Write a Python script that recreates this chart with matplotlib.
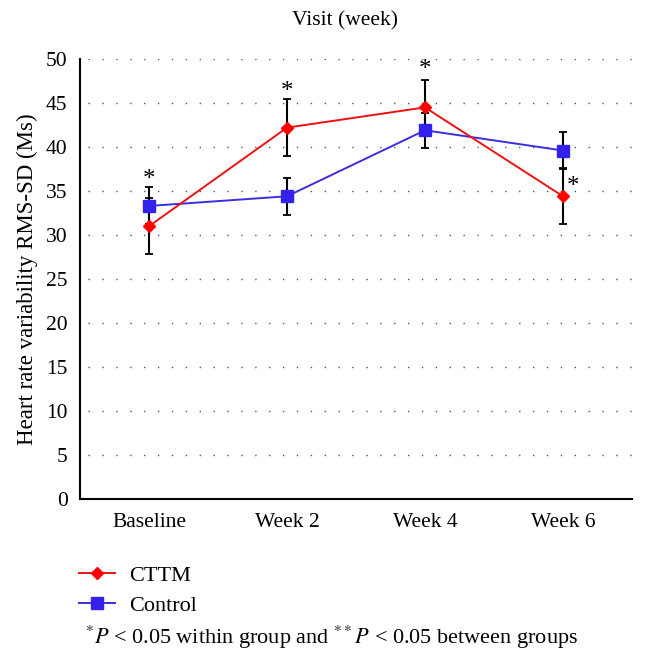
import matplotlib
matplotlib.use("Agg")
import matplotlib.pyplot as plt
import numpy as np

# Data
visits = ["Baseline", "Week 2", "Week 4", "Week 6"]
cttm = [31.0, 42.2, 44.5, 34.4]
cttm_err = [3.2, 3.2, 3.1, 3.2]
control = [33.3, 34.4, 41.9, 39.6]
control_err = [2.1, 2.1, 2.0, 2.1]
yticks = [0, 5, 10, 15, 20, 25, 30, 35, 40, 45, 50]
# asterisk positions (x index, y value)
star_x = [0, 1, 2, 3.07]
star_y = [36.3, 46.2, 48.8, 35.5]

plt.rcParams["font.family"] = ["Liberation Serif", "DejaVu Serif"]
plt.rcParams["mathtext.fontset"] = "stix"

fig = plt.figure(figsize=(6.46, 6.62), dpi=100)
ax = fig.add_axes([80 / 646, 163 / 662, 552 / 646, 440 / 662])

x = np.arange(len(visits))

# dotted horizontal grid
for yv in yticks[1:]:
    ax.plot([-0.44, 3.5], [yv, yv], color="#555555", lw=1.0,
            linestyle=(0, (1, 9)), zorder=1)

# error bars (black) under the markers
ax.errorbar(x, cttm, yerr=cttm_err, fmt="none", ecolor="black",
            elinewidth=1.5, capsize=3, capthick=1.3, zorder=2)
ax.errorbar(x, control, yerr=control_err, fmt="none", ecolor="black",
            elinewidth=1.5, capsize=3, capthick=1.3, zorder=2)

l1, = ax.plot(x, cttm, color="#ee1111", lw=1.4, marker="D", markersize=6.5,
              markerfacecolor="#ff0000", markeredgecolor="#ff0000",
              label="CTTM", zorder=4)
l2, = ax.plot(x, control, color="#3b2ee0", lw=1.4, marker="s", markersize=8.5,
              markerfacecolor="#3322ee", markeredgecolor="#3322ee",
              label="Control", zorder=3)

for sx, sy in zip(star_x, star_y):
    ax.text(sx, sy, "*", ha="center", va="center", fontsize=18)

ax.set_xlim(-0.5, 3.5)
ax.set_ylim(0, 50)
ax.set_yticks(yticks)
ax.set_xticks(x)
ax.set_xticklabels(visits)
ax.tick_params(axis="both", length=0, labelsize=15.5)
ax.tick_params(axis="y", pad=9)
ax.tick_params(axis="x", pad=10)

for side in ["top", "right"]:
    ax.spines[side].set_visible(False)
ax.spines["left"].set_linewidth(1.5)
ax.spines["bottom"].set_linewidth(1.5)

ax.set_ylabel("Heart rate variability RMS-SD (Ms)", fontsize=16.5, labelpad=6)

fig.text(345 / 646, 1 - 21 / 662, "Visit (week)", ha="center", va="center",
         fontsize=15.5)

fig.legend(handles=[l1, l2], loc="upper left",
           bbox_to_anchor=(79 / 646, 1 - 565 / 662), frameon=False,
           borderpad=0, borderaxespad=0,
           prop={"family": ["Liberation Serif"], "size": 16},
           handlelength=1.6, handletextpad=0.65, labelspacing=0.45)

fig.text(85 / 646, 1 - 637 / 662,
         r"$^{*}P$ < 0.05 within group and $^{**}P$ < 0.05 between groups",
         ha="left", va="center", fontsize=16)

fig.savefig("out.png", dpi=100)
